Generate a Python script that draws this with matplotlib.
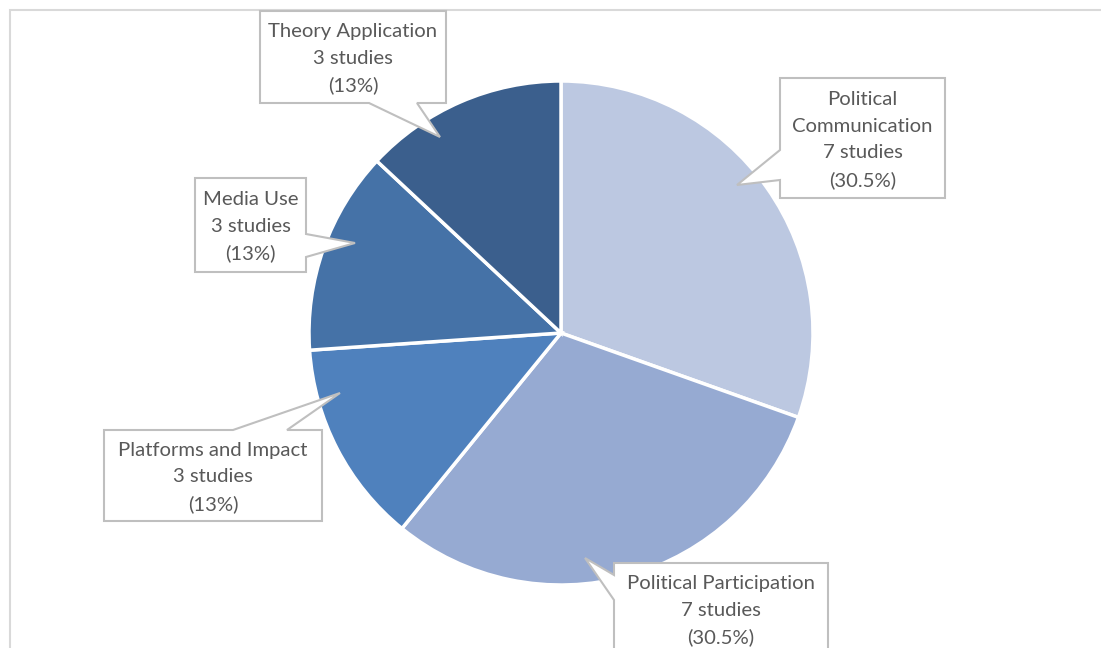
import matplotlib.pyplot as plt
from matplotlib.patches import Polygon, Rectangle

# data
topics = ["Political\nCommunication", "Political Participation", "Platforms and Impact",
          "Media Use", "Theory Application"]
studies = [7, 7, 3, 3, 3]
pct_labels = ["30.5%", "30.5%", "13%", "13%", "13%"]
colors = ["#BCC8E1", "#96AAD2", "#4F81BD", "#4572A7", "#3B5F8D"]

W, H = 1101, 648
fig = plt.figure(figsize=(W / 100, H / 100), dpi=100)
ax = fig.add_axes([0, 0, 1, 1])

# chart area frame (runs off right and bottom)
ax.add_patch(Rectangle((10, -20), W + 20, H - 10 + 20, fill=False,
                       ec="#D9D9D9", lw=1.5, zorder=0))

ax.pie(studies, colors=colors, startangle=90, counterclock=False,
       center=(561, H - 333), radius=252, frame=True,
       wedgeprops=dict(edgecolor="white", linewidth=2.5))
ax.set_xlim(0, W)
ax.set_ylim(0, H)
ax.set_aspect("equal")
ax.axis("off")


def callout(box, edge, b0, b1, tip, text):
    # box = (left, top, right, bottom) in pixel coords (y down)
    l, t, r, b = box
    tx, ty = tip
    if edge == "bottom":
        pts = [(l, t), (r, t), (r, b), (b1, b), (tx, ty), (b0, b), (l, b)]
    elif edge == "top":
        pts = [(l, t), (b0, t), (tx, ty), (b1, t), (r, t), (r, b), (l, b)]
    elif edge == "left":
        pts = [(l, t), (r, t), (r, b), (l, b), (l, b1), (tx, ty), (l, b0)]
    else:
        pts = [(l, t), (r, t), (r, b0), (tx, ty), (r, b1), (r, b), (l, b)]
    pts = [(x, H - y) for x, y in pts]
    ax.add_patch(Polygon(pts, closed=True, fc="white", ec="#BFBFBF", lw=1.5, zorder=5))
    ax.text((l + r) / 2, H - (t + b) / 2 - 2, text, ha="center", va="center",
            fontsize=14.6, family="Lato", color="#595959", linespacing=1.67, zorder=6)


labels = [f"{n}\n{s} studies\n({p})" for n, s, p in zip(topics, studies, pct_labels)]

callout((780, 78, 945, 198), "left", 150, 180, (737, 185), labels[0])
callout((614, 563, 828, 655), "left", 575, 600, (585, 558), labels[1])
callout((104, 430, 322, 521), "top", 233, 287, (340, 393), labels[2])
callout((195, 178, 306, 272), "right", 234, 257, (355, 243), labels[3])
callout((260, 11, 446, 103), "bottom", 369, 417, (440, 137), labels[4])

fig.savefig("out.png", dpi=100)
